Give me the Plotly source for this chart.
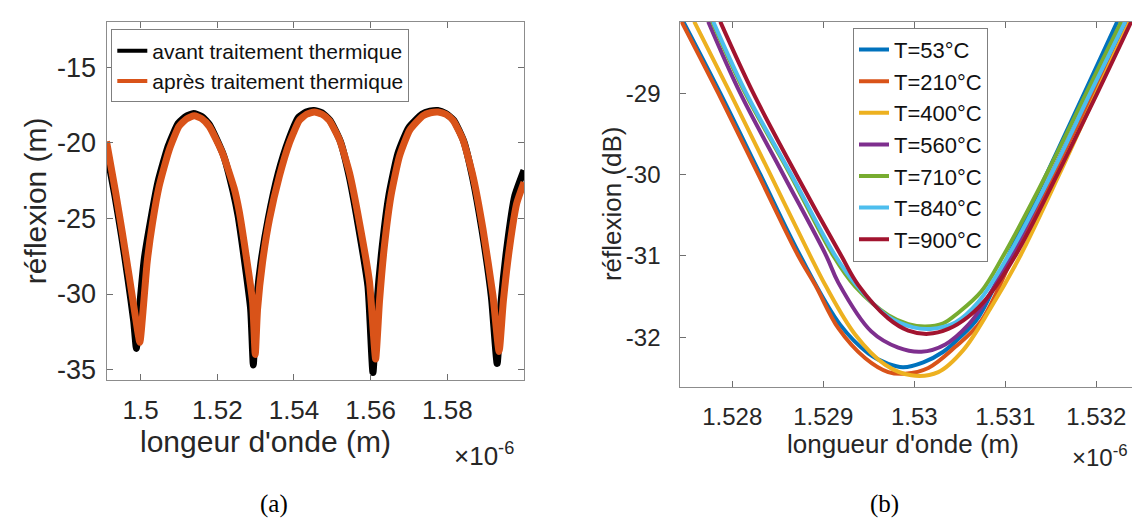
import plotly.graph_objects as go

W, H = 1140, 520

# ---------------- Panel (a) data (wavelength in µm, i.e. x1e-6 m) ----------------
wl_avant = [1.4911, 1.4933, 1.4950, 1.4967, 1.4982, 1.4989, 1.4997, 1.5010, 1.5027, 1.5045,
            1.5072, 1.5098, 1.5118, 1.5138, 1.5160, 1.5180, 1.5216, 1.5241, 1.5254, 1.5270,
            1.5287, 1.5294, 1.5300, 1.5314, 1.5333, 1.5359, 1.5386, 1.5412, 1.5432, 1.5452,
            1.5473, 1.5494, 1.5521, 1.5544, 1.5568, 1.5593, 1.5606, 1.5616, 1.5630, 1.5648,
            1.5671, 1.5699, 1.5734, 1.5755, 1.5775, 1.5796, 1.5817, 1.5843, 1.5866, 1.5890,
            1.5915, 1.5930, 1.5940, 1.5957, 1.5976, 1.6000]
refl_avant = [-20.5, -23.5, -26.1, -29.0, -31.8, -33.6, -31.0, -27.6, -25.0, -22.6,
              -20.2, -18.7, -18.25, -18.05, -18.25, -18.8, -20.8, -23.2, -24.8, -27.6,
              -31.0, -34.7, -31.2, -27.9, -25.0, -22.0, -19.8, -18.3, -17.95, -17.85,
              -18.0, -18.5, -19.9, -22.2, -25.5, -29.5, -35.2, -30.8, -26.9, -23.4,
              -20.7, -19.0, -18.1, -17.9, -17.85, -18.05, -18.5, -19.9, -22.3, -25.7,
              -30.2, -34.6, -30.6, -26.6, -23.5, -21.8]

wl_apres = [1.4911, 1.4935, 1.4952, 1.4970, 1.4987, 1.4998, 1.5006, 1.5017, 1.5031, 1.5048,
            1.5074, 1.5100, 1.5120, 1.5140, 1.5160, 1.5179, 1.5214, 1.5244, 1.5257, 1.5274,
            1.5292, 1.5299, 1.5305, 1.5318, 1.5336, 1.5362, 1.5388, 1.5414, 1.5433, 1.5453,
            1.5473, 1.5492, 1.5519, 1.5545, 1.5571, 1.5597, 1.5613, 1.5623, 1.5636, 1.5653,
            1.5675, 1.5702, 1.5736, 1.5756, 1.5776, 1.5796, 1.5815, 1.5841, 1.5867, 1.5893,
            1.5919, 1.5935, 1.5946, 1.5963, 1.5981, 1.6000]
refl_apres = [-19.9, -23.3, -25.9, -28.8, -31.6, -33.2, -31.2, -27.9, -25.3, -22.9,
              -20.5, -18.9, -18.4, -18.2, -18.4, -18.9, -20.7, -23.0, -24.5, -27.25,
              -30.5, -34.0, -31.0, -27.9, -25.06, -22.2, -20.0, -18.5, -18.1, -17.95,
              -18.1, -18.5, -19.8, -22.0, -25.3, -29.2, -34.3, -30.5, -26.8, -23.5,
              -20.9, -19.15, -18.2, -18.0, -17.95, -18.1, -18.5, -19.8, -22.2, -25.7,
              -30.1, -33.8, -30.5, -26.8, -24.0, -22.6]

a_names = ["avant traitement thermique", "après traitement thermique"]
a_colors = ["#000000", "#D95319"]

a_xticks = [1.50, 1.52, 1.54, 1.56, 1.58]
a_xticklabels = ["1.5", "1.52", "1.54", "1.56", "1.58"]
a_yticks = [-35, -30, -25, -20, -15]
a_yticklabels = ["-35", "-30", "-25", "-20", "-15"]

# ---------------- Panel (b) data ----------------
b_names = ["T=53°C", "T=210°C", "T=400°C", "T=560°C", "T=710°C", "T=840°C", "T=900°C"]
b_colors = ["#0072BD", "#D95319", "#EDB120", "#7E2F8E", "#77AC30", "#4DBEEE", "#A2142F"]

wl_53 = [1.527462, 1.527868, 1.528308, 1.528747, 1.529187, 1.529495, 1.529714, 1.529879,
         1.530099, 1.530319, 1.530484, 1.530703, 1.531033, 1.531451, 1.531868, 1.532231]
refl_53 = [-28.12, -29.0, -30.0, -31.0, -31.85, -32.2, -32.33, -32.37,
           -32.31, -32.18, -32.02, -31.76, -31.0, -30.0, -29.0, -28.12]

wl_210 = [1.527443, 1.527846, 1.528286, 1.528725, 1.528912, 1.529165, 1.529462, 1.529714,
          1.529901, 1.530154, 1.530451, 1.530736, 1.531088, 1.531527, 1.531967, 1.532352]
refl_210 = [-28.12, -29.0, -30.0, -31.0, -31.36, -31.89, -32.26, -32.43,
            -32.45, -32.38, -32.12, -31.80, -31.0, -30.0, -29.0, -28.12]

wl_400 = [1.527582, 1.527978, 1.528418, 1.528857, 1.529022, 1.529352, 1.529681, 1.529967,
          1.530264, 1.530538, 1.530835, 1.531165, 1.531593, 1.532000, 1.532363]
refl_400 = [-28.12, -29.0, -30.0, -31.0, -31.36, -31.97, -32.34, -32.47,
            -32.43, -32.16, -31.65, -31.0, -30.0, -29.0, -28.12]

wl_560 = [1.527736, 1.528088, 1.528560, 1.529033, 1.529165, 1.529527, 1.529824, 1.530077,
          1.530341, 1.530593, 1.530758, 1.531066, 1.531505, 1.531934, 1.532319]
refl_560 = [-28.12, -29.0, -30.0, -31.0, -31.33, -31.93, -32.13, -32.18,
            -32.09, -31.85, -31.6, -31.0, -30.0, -29.0, -28.12]

wl_710 = [1.527780, 1.528143, 1.528637, 1.529110, 1.529352, 1.529714, 1.529934, 1.530121,
          1.530319, 1.530484, 1.530736, 1.530978, 1.531451, 1.531890, 1.532275]
refl_710 = [-28.12, -29.0, -30.0, -31.0, -31.38, -31.73, -31.84, -31.87,
            -31.83, -31.7, -31.44, -31.0, -30.0, -29.0, -28.12]

wl_840 = [1.527791, 1.528154, 1.528648, 1.529132, 1.529363, 1.529714, 1.529989, 1.530176,
          1.530451, 1.530703, 1.531033, 1.531505, 1.531934, 1.532319]
refl_840 = [-28.12, -29.0, -30.0, -31.0, -31.36, -31.75, -31.88, -31.9,
            -31.82, -31.57, -31.0, -30.0, -29.0, -28.12]

wl_900 = [1.527868, 1.528231, 1.528703, 1.529198, 1.529385, 1.529714, 1.529934, 1.530154,
          1.530374, 1.530593, 1.530813, 1.531110, 1.531571, 1.532011, 1.532385]
refl_900 = [-28.12, -29.0, -30.0, -31.0, -31.36, -31.77, -31.92, -31.96,
            -31.9, -31.75, -31.5, -31.0, -30.0, -29.0, -28.12]

b_wl = [wl_53, wl_210, wl_400, wl_560, wl_710, wl_840, wl_900]
b_refl = [refl_53, refl_210, refl_400, refl_560, refl_710, refl_840, refl_900]

b_xticks = [1.528, 1.529, 1.530, 1.531, 1.532]
b_xticklabels = ["1.528", "1.529", "1.53", "1.531", "1.532"]
b_yticks = [-32, -31, -30, -29]
b_yticklabels = ["-32", "-31", "-30", "-29"]

# ---------------- Figure ----------------
FONT = "Liberation Sans, Arial, sans-serif"
TXT = "#262626"

fig = go.Figure()

# panel (a): thick data lines, thinner legend samples (legend-only proxies)
for xs, ys, name, col in zip([wl_avant, wl_apres], [refl_avant, refl_apres], a_names, a_colors):
    fig.add_trace(go.Scatter(x=xs, y=ys, mode="lines", name=name, showlegend=False,
                             line=dict(color=col, width=7, shape="spline", smoothing=0.5),
                             xaxis="x", yaxis="y"))
for name, col in zip(a_names, a_colors):
    fig.add_trace(go.Scatter(x=[None], y=[None], mode="lines", name=name,
                             line=dict(color=col, width=4),
                             xaxis="x", yaxis="y", legend="legend"))

for xs, ys, name, col in zip(b_wl, b_refl, b_names, b_colors):
    fig.add_trace(go.Scatter(x=xs, y=ys, mode="lines", name=name,
                             line=dict(color=col, width=4, shape="spline", smoothing=1.0),
                             xaxis="x2", yaxis="y2", legend="legend2"))


def px_x(p):
    return p / W


def px_y(p):
    return 1 - p / H


axis_common = dict(showline=True, linecolor="#8c8c8c", linewidth=1, mirror="allticks",
                   ticks="inside", ticklen=6, tickcolor="#6e6e6e", tickwidth=1,
                   showgrid=False, zeroline=False, fixedrange=True)

fig.update_layout(
    width=W, height=H, autosize=False,
    margin=dict(l=0, r=0, t=0, b=0, pad=0),
    paper_bgcolor="white", plot_bgcolor="white",
    font=dict(family=FONT, color=TXT),
    xaxis=dict(domain=[px_x(98.5), px_x(516)], range=[1.4911, 1.6000], anchor="y",
               tickvals=a_xticks, ticktext=a_xticklabels,
               tickfont=dict(size=26, color=TXT), ticklabelstandoff=7, **axis_common),
    yaxis=dict(domain=[px_y(375.7), px_y(14)], range=[-35.70, -11.98], anchor="x",
               tickvals=a_yticks, ticktext=a_yticklabels,
               tickfont=dict(size=27, color=TXT), ticklabelstandoff=4, **axis_common),
    xaxis2=dict(domain=[px_x(672.3), px_x(1136.7)], range=[1.527429, 1.532532], anchor="y2",
                tickvals=b_xticks, ticktext=b_xticklabels,
                tickfont=dict(size=24, color=TXT), ticklabelstandoff=8, **axis_common),
    yaxis2=dict(domain=[px_y(382.7), px_y(14)], range=[-32.614, -28.123], anchor="x2",
                tickvals=b_yticks, ticktext=b_yticklabels,
                tickfont=dict(size=24, color=TXT), ticklabelstandoff=14, **axis_common),
    legend=dict(x=px_x(103.3), y=px_y(21.7), xanchor="left", yanchor="top",
                bgcolor="white", bordercolor="#7f7f7f", borderwidth=1,
                font=dict(size=21, color="#111111", family=FONT),
                tracegroupgap=0, itemwidth=30),
    legend2=dict(x=px_x(845), y=px_y(20), xanchor="left", yanchor="top",
                 bgcolor="white", bordercolor="#7f7f7f", borderwidth=1,
                 font=dict(size=22, color="#111111", family=FONT),
                 tracegroupgap=0, itemwidth=30),
    showlegend=True,
)

annotations = [
    dict(text="réflexion (m)", x=px_x(27), y=px_y(195), textangle=-90,
         font=dict(size=30, color=TXT)),
    dict(text="longeur d'onde (m)", x=px_x(257), y=px_y(438),
         font=dict(size=30, color=TXT)),
    dict(text="×10<sup>-6</sup>", x=px_x(508), y=px_y(451), xanchor="right",
         font=dict(size=26, color=TXT)),
    dict(text="réflexion (dB)", x=px_x(604), y=px_y(198), textangle=-90,
         font=dict(size=26, color=TXT)),
    dict(text="longueur d'onde (m)", x=px_x(895), y=px_y(440),
         font=dict(size=26, color=TXT)),
    dict(text="×10<sup>-6</sup>", x=px_x(1122), y=px_y(452), xanchor="right",
         font=dict(size=24, color=TXT)),
    dict(text="(a)", x=px_x(266), y=px_y(501),
         font=dict(size=25, color="black", family="Liberation Serif, Times New Roman, serif")),
    dict(text="(b)", x=px_x(877), y=px_y(501),
         font=dict(size=25, color="black", family="Liberation Serif, Times New Roman, serif")),
]
for a in annotations:
    a.update(xref="paper", yref="paper", showarrow=False)
    a.setdefault("xanchor", "center")
    a.setdefault("yanchor", "middle")
fig.update_layout(annotations=annotations)

fig.write_html("out.html", config=dict(displayModeBar=False))
